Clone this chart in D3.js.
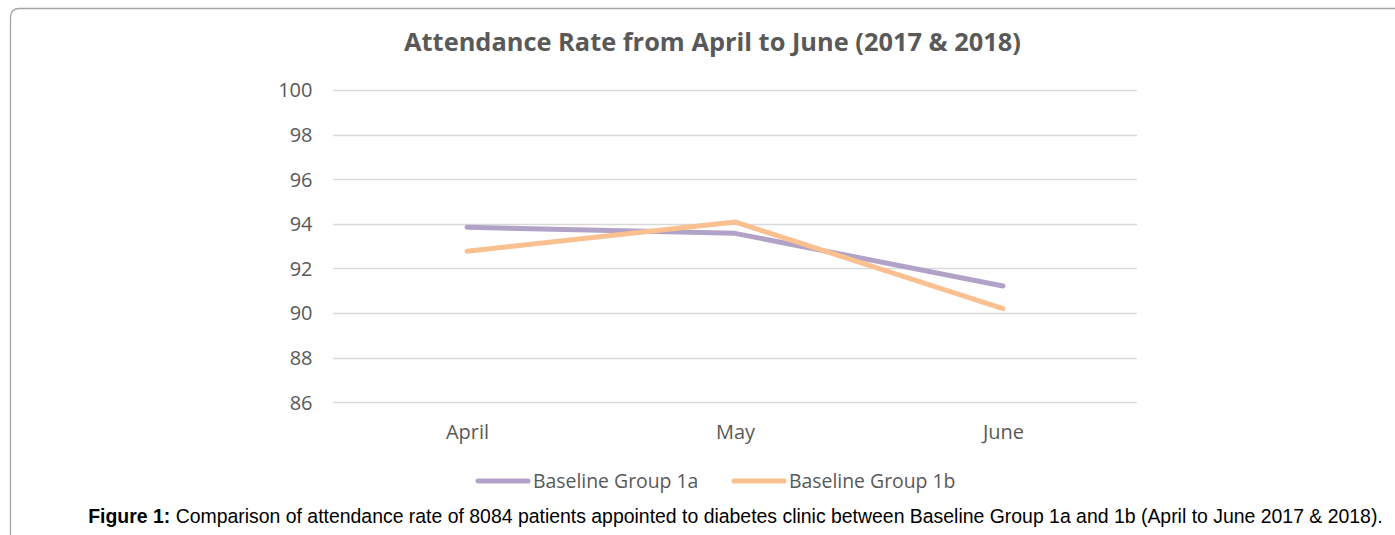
<!DOCTYPE html>
<html>
<head>
<meta charset="utf-8">
<script src="https://cdn.jsdelivr.net/npm/d3@7"></script>
<style>
  html, body { margin: 0; padding: 0; background: #fff; }
  svg { display: block; }
</style>
</head>
<body>
<svg id="chart" width="1395" height="535"></svg>
<script>
// Attendance rate by month for the two baseline groups
const months = ["April", "May", "June"];
const group1a = [93.84, 93.57, 91.21];
const group1b = [92.77, 94.08, 90.19];
const seriesNames = ["Baseline Group 1a", "Baseline Group 1b"];
const seriesColors = ["#b3a2c7", "#fac090"];
const yTicks = [86, 88, 90, 92, 94, 96, 98, 100];

const titleText = "Attendance Rate from April to June (2017 & 2018)";
const captionBold = "Figure 1:";
const captionRest = " Comparison of attendance rate of 8084 patients appointed to diabetes clinic between Baseline Group 1a and 1b (April to June 2017 & 2018).";

const svg = d3.select("#chart");
const chartFont = "'Open Sans', 'Noto Sans', sans-serif";
const textGrey = "#595959";

// chart frame: rounded top-left corner, runs off the right and bottom edges
const fx = 10.5, fy = 8.5, r = 9;
svg.append("path")
  .attr("d", `M${fx},540 L${fx},${fy + r} Q${fx},${fy} ${fx + r},${fy} L1400,${fy}`)
  .attr("fill", "none")
  .attr("stroke", "#a6a6a6")
  .attr("stroke-width", 1.3);

// scales
const x = d3.scalePoint().domain(months).range([333, 1137]).padding(0.5);
const y = d3.scaleLinear().domain([86, 100]).range([402.2, 89.9]);

// horizontal gridlines
svg.append("g")
  .selectAll("line")
  .data(yTicks)
  .join("line")
  .attr("x1", 333).attr("x2", 1137)
  .attr("y1", d => Math.round(y(d)) + 0.5)
  .attr("y2", d => Math.round(y(d)) + 0.5)
  .attr("stroke", "#d9d9d9")
  .attr("stroke-width", 1.5);

// y axis labels
const yAxis = d3.axisLeft(y).tickValues(yTicks).tickSize(0).tickPadding(0);
const yg = svg.append("g").attr("transform", "translate(312.5,0)").call(yAxis);
yg.select(".domain").remove();
yg.selectAll("text")
  .attr("font-family", chartFont)
  .attr("font-size", 20)
  .attr("fill", textGrey)
  .attr("dy", "0.35em");

// x axis labels
const xAxis = d3.axisBottom(x).tickSize(0).tickPadding(0);
const xg = svg.append("g").attr("transform", "translate(0,424)").call(xAxis);
xg.select(".domain").remove();
xg.selectAll("text")
  .attr("font-family", chartFont)
  .attr("font-size", 20)
  .attr("fill", textGrey)
  .attr("dy", "0.75em");

// series lines
const series = [group1a, group1b];
const line = d3.line().x((d, i) => x(months[i])).y(d => y(d));
svg.append("g")
  .selectAll("path")
  .data(series)
  .join("path")
  .attr("d", d => line(d))
  .attr("fill", "none")
  .attr("stroke", (d, i) => seriesColors[i])
  .attr("stroke-width", 5)
  .attr("stroke-linecap", "round")
  .attr("stroke-linejoin", "round");

// legend
const legendX = [478, 734];
const legend = svg.append("g")
  .selectAll("g")
  .data(seriesNames)
  .join("g")
  .attr("transform", (d, i) => `translate(${legendX[i]},481)`);
legend.append("line")
  .attr("x1", 0).attr("x2", 50)
  .attr("y1", 0).attr("y2", 0)
  .attr("stroke", (d, i) => seriesColors[i])
  .attr("stroke-width", 5)
  .attr("stroke-linecap", "round");
legend.append("text")
  .attr("x", 55)
  .attr("y", 7)
  .attr("font-family", chartFont)
  .attr("font-size", 19.4)
  .attr("fill", textGrey)
  .text(d => d);

// fit a text element to a target width by adjusting its font size
function fitWidth(sel, target) {
  const fs = parseFloat(sel.attr("font-size"));
  const w = sel.node().getComputedTextLength();
  sel.attr("font-size", (fs * target / w).toFixed(2));
}

// title
const title = svg.append("text")
  .attr("x", 712.5)
  .attr("y", 51)
  .attr("text-anchor", "middle")
  .attr("font-family", chartFont)
  .attr("font-weight", "bold")
  .attr("font-size", 24)
  .attr("fill", textGrey)
  .text(titleText);
fitWidth(title, 617);

// caption below the chart
const caption = svg.append("text")
  .attr("x", 735.5)
  .attr("y", 523)
  .attr("text-anchor", "middle")
  .attr("font-family", "'Liberation Sans', Arial, sans-serif")
  .attr("font-size", 16)
  .attr("fill", "#000");
caption.append("tspan").attr("font-weight", "bold").text(captionBold);
caption.append("tspan").text(captionRest);
fitWidth(caption, 1295);
</script>
</body>
</html>
